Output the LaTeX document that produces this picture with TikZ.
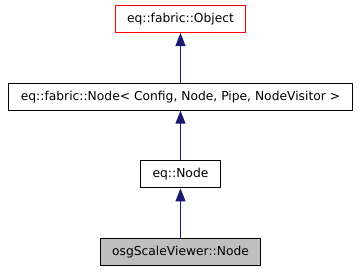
\documentclass[tikz,border=0pt]{standalone}
\usepackage{fontspec}
\setmainfont{DejaVu Sans}
\usepackage{xcolor}
\usetikzlibrary{positioning, arrows.meta}

\definecolor{edgeblue}{HTML}{191970}
\definecolor{cursor}{HTML}{BFBFBF}

\begin{document}
\begin{tikzpicture}[x=1bp, y=1bp, node distance=77.7bp,
	cls/.style = {draw, line width=1bp, minimum height=27bp, inner xsep=12bp, font=\fontsize{12.3bp}{14bp}\selectfont},
	inh/.style = {edgeblue, line width=1bp, -{Triangle[width=10bp, length=13bp]}}]
		\useasboundingbox (0,0) rectangle (363,-272);

		\node[cls, draw=red] (obj) at (180.5,-19) {eq::fabric::Object};
		\node[cls] (fabnode) [below of=obj] {eq::fabric::Node< Config, Node, Pipe, NodeVisitor >};
		\node[cls] (eqnode) [below of=fabnode] {eq::Node};
		\node[cls, fill=cursor] (osgnode) [below of=eqnode] {osgScaleViewer::Node};

		\draw[inh] (fabnode) edge (obj);
		\draw[inh] (eqnode) edge (fabnode);
		\draw[inh] (osgnode) edge (eqnode);

	\end{tikzpicture}
\end{document}
